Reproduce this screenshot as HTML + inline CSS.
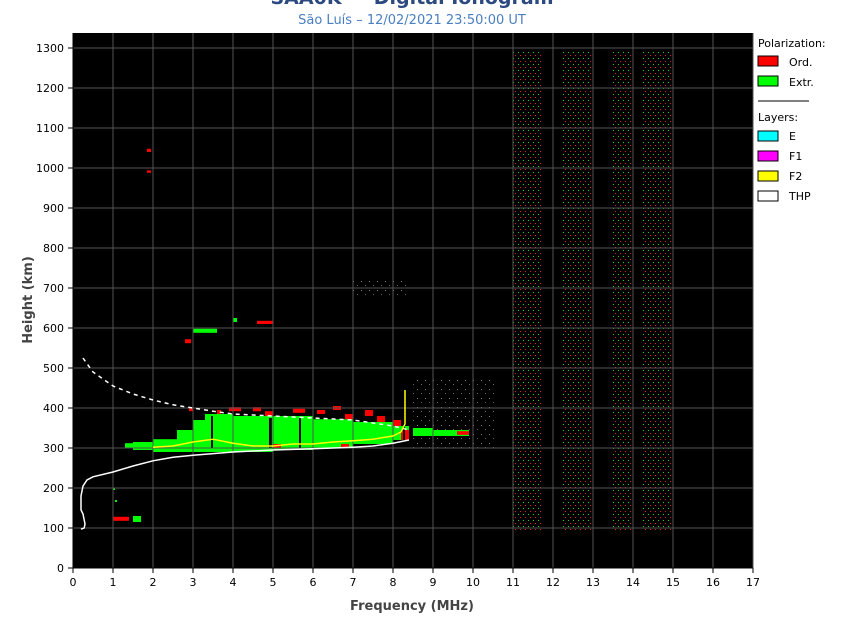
<!DOCTYPE html>
<html><head><meta charset="utf-8"><style>
body{margin:0;background:#fff;width:844px;height:622px;overflow:hidden;font-family:"DejaVu Sans","Liberation Sans",sans-serif}
svg{position:absolute;left:0;top:0}
</style></head><body>
<svg id="c" width="844" height="622">
<defs>
<pattern id="dots" width="5" height="6" patternUnits="userSpaceOnUse">
<rect x="0" y="1" width="1" height="1" fill="#e02020"/>
<rect x="3" y="4" width="1" height="1" fill="#20d020"/>
</pattern>
<pattern id="dots2" width="8" height="9" patternUnits="userSpaceOnUse">
<rect x="1" y="2" width="1" height="1" fill="#888"/>
<rect x="5" y="6" width="1" height="1" fill="#666"/>
</pattern>
</defs>
<text x="412" y="4" text-anchor="middle" font-size="19" font-weight="bold" fill="#2d4a80">SAA0K — Digital Ionogram</text>
<text x="412" y="24" text-anchor="middle" font-size="13" fill="#4a7fc1">São Luís – 12/02/2021 23:50:00 UT</text>
<rect x="73" y="33" width="680" height="535" fill="#000"/>
<g id="marks"></g><g id="grid"></g><g id="lines"></g><g id="axes"></g>
<text x="412" y="610" text-anchor="middle" font-size="13" font-weight="bold" fill="#444">Frequency (MHz)</text>
<text transform="translate(32,300) rotate(-90)" text-anchor="middle" font-size="13" font-weight="bold" fill="#444">Height (km)</text>
<g font-size="11" fill="#000">
<text x="758" y="47">Polarization:</text>
<rect x="758" y="56" width="20" height="10" fill="#f00" stroke="#000"/><text x="789" y="66">Ord.</text>
<rect x="758" y="76" width="20" height="10" fill="#0f0" stroke="#000"/><text x="789" y="86">Extr.</text>
<line x1="758" y1="101" x2="809" y2="101" stroke="#000"/>
<text x="758" y="121">Layers:</text>
<rect x="758" y="131" width="20" height="10" fill="#0ff" stroke="#000"/><text x="789" y="140">E</text>
<rect x="758" y="151" width="20" height="10" fill="#f0f" stroke="#000"/><text x="789" y="160">F1</text>
<rect x="758" y="171" width="20" height="10" fill="#ff0" stroke="#000"/><text x="789" y="180">F2</text>
<rect x="758" y="191" width="20" height="10" fill="#fff" stroke="#000"/><text x="789" y="200">THP</text>
</g>
</svg>
<script>
const xTicks=[0,1,2,3,4,5,6,7,8,9,10,11,12,13,14,15,16,17];
const yTicks=[0,100,200,300,400,500,600,700,800,900,1000,1100,1200,1300];
// green echo regions [f0,f1,h0,h1]
const greenRegions=[[1.3,1.5,300,312],[1.5,2.0,295,315],[2.0,2.6,290,322],[2.6,3.0,290,345],[3.0,3.3,290,370],[3.3,4.0,290,385],[4.0,5.0,290,380],[5.0,6.0,295,380],[6.0,7.0,300,372],[7.0,8.0,310,365],[8.0,8.4,320,355],[8.5,9.0,330,350],[9.0,9.9,330,345],[1.5,1.7,115,130],[3.0,3.6,588,598],[4.0,4.1,615,625],[1.0,1.05,195,200],[1.05,1.1,165,170]];
// ordinary (red) echo regions
const redRegions=[[2.9,3.0,392,400],[3.6,3.7,385,395],[3.9,4.2,392,402],[4.5,4.7,392,402],[4.8,5.0,380,392],[5.5,5.8,388,398],[6.1,6.3,385,395],[6.5,6.7,395,405],[6.8,7.0,372,385],[7.3,7.5,380,395],[7.6,7.8,365,380],[8.0,8.2,355,370],[8.2,8.4,320,345],[9.6,9.9,333,342],[1.0,1.4,118,128],[1.85,1.95,1040,1048],[1.85,1.95,988,994],[2.8,2.95,562,572],[4.6,5.0,610,618],[5.0,5.2,300,310],[6.7,6.9,300,310]];
// dark gaps inside the echo trace
const gaps=[[3.45,3.5,300,380],[4.9,4.97,300,375],[5.65,5.7,300,375],[8.25,8.3,320,360]];
// sparse noise bands [f0,f1,h0,h1]
const noiseBands=[[11.0,11.7,90,1290],[12.2,13.0,90,1290],[13.5,14.0,90,1290],[14.2,15.0,90,1290]];
const noiseLight=[[8.5,10.6,300,470],[7.0,8.4,680,720]];
// THP curve
const thpF=[0.2,0.28,0.3,0.25,0.2,0.2,0.25,0.35,0.5,1,1.5,2,2.5,3,4,5,6,7,7.5,8,8.4];
const thpH=[97,100,110,135,145,180,205,220,228,240,255,268,277,282,290,295,298,302,305,312,320];
// upper (dashed) curve
const upF=[0.25,0.5,1,1.5,2,2.5,3,3.5,4,5,6,7,8,8.4];
const upH=[525,490,455,435,420,408,400,392,385,380,375,370,355,345];
// F2 trace
const f2F=[2.0,2.5,3.0,3.5,4.0,4.5,5.0,5.5,6.0,6.5,7.0,7.5,8.0,8.2,8.3,8.3];
const f2H=[302,305,315,322,312,305,305,310,310,315,318,322,330,340,360,445];

const X=f=>73+f*40, Y=h=>568-h*0.4;
const NS='http://www.w3.org/2000/svg';
function mk(tag,attrs,parent){const e=document.createElementNS(NS,tag);for(const k in attrs)e.setAttribute(k,attrs[k]);parent.appendChild(e);return e;}
const grid=document.getElementById('grid'),marks=document.getElementById('marks'),lines=document.getElementById('lines'),axes=document.getElementById('axes');
xTicks.forEach(t=>{
 const l=mk('line',{x1:X(t),x2:X(t),y1:33,y2:568,stroke:'#555'},grid);
 
 
 mk('line',{x1:X(t),x2:X(t),y1:568,y2:573,stroke:'#000'},axes);
 const tx=mk('text',{x:X(t),y:586,'text-anchor':'middle','font-size':11},axes);
 tx.textContent=t;
 
 
});
yTicks.forEach(t=>{
 const l=mk('line',{x1:73,x2:753,y1:Y(t),y2:Y(t),stroke:'#555'},grid);
 
 
 mk('line',{x1:68,x2:73,y1:Y(t),y2:Y(t),stroke:'#000'},axes);
 const tx=mk('text',{x:64,y:Y(t)+4,'text-anchor':'end','font-size':11},axes);
 tx.textContent=t;
 
 
});
mk('line',{x1:73,x2:753,y1:568,y2:568,stroke:'#000'},axes);
mk('line',{x1:73,x2:73,y1:33,y2:568,stroke:'#000'},axes);
function region(r,fill,name){const e=mk('rect',{x:X(r[0]),y:Y(r[3]),width:X(r[1])-X(r[0]),height:Y(r[2])-Y(r[3]),fill:fill},marks);
 
 }
noiseBands.forEach(r=>region(r,'url(#dots)','noise-band'));
noiseLight.forEach(r=>region(r,'url(#dots2)','noise-scatter'));
greenRegions.forEach(r=>region(r,'#00ff00','extraordinary-echo'));
redRegions.forEach(r=>region(r,'#ff0000','ordinary-echo'));
gaps.forEach(r=>region(r,'#000','echo-gap'));
function line(fs,hs,stroke,dash,name){const p=mk('polyline',{points:fs.map((f,i)=>X(f)+','+Y(hs[i])).join(' '),fill:'none',stroke:stroke,'stroke-width':1.5},lines);
 if(dash)p.setAttribute('stroke-dasharray',dash);
 
 }
line(thpF,thpH,'#fff',null,'thp-profile');
line(upF,upH,'#fff','4,4','upper-profile');
line(f2F,f2H,'#ffff00',null,'f2-trace');
</script>
</body></html>
